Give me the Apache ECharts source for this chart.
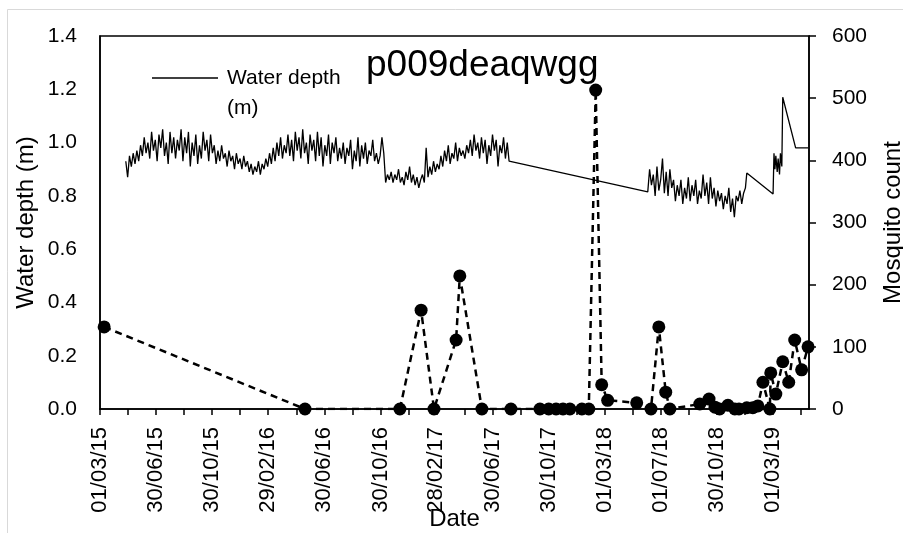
<!DOCTYPE html>
<html><head><meta charset="utf-8">
<script src="https://cdn.jsdelivr.net/npm/echarts@6/dist/echarts.min.js"></script>
<style>html,body{margin:0;padding:0;background:#fff}#c{width:903px;height:533px}</style>
</head><body><div id="c"></div>
<script>
// X-axis tick labels (dd/mm/yy)
const tickLabels = ['01/03/15','30/06/15','30/10/15','29/02/16','30/06/16','30/10/16','28/02/17','30/06/17','30/10/17','01/03/18','01/07/18','30/10/18','01/03/19'];

// Mosquito counts (right axis)
const mosqDates = ['2015-03-10','2016-05-19','2016-12-11','2017-01-26','2017-02-23','2017-04-12','2017-04-20','2017-06-07','2017-08-09','2017-10-11','2017-10-30','2017-11-15','2017-11-30','2017-12-15','2018-01-10','2018-01-25','2018-02-09','2018-02-22','2018-03-07','2018-05-09','2018-06-09','2018-06-26','2018-07-11','2018-07-20','2018-09-23','2018-10-13','2018-10-26','2018-11-05','2018-11-23','2018-12-08','2018-12-17','2019-01-03','2019-01-16','2019-01-27','2019-02-07','2019-02-22','2019-02-24','2019-03-07','2019-03-22','2019-04-04','2019-04-17','2019-05-02','2019-05-16'];
const mosqCounts = [132,0,0,159,0,111,214,0,0,0,0,0,0,0,0,0,513,39,14,10,0,132,27,0,8,16,3,0,6,0,0,2,2,5,43,0,58,24,76,43,111,63,100];

// Water depth (left axis), segment A: readings every 4 days from start
const waterAStart = '2015-04-26';
const waterStepDays = 4;
const waterA = [0.93,0.87,0.95,0.91,0.96,0.92,0.97,0.93,0.99,
0.95,1.02,0.96,1.00,0.94,1.04,0.97,1.01,0.93,1.03,0.98,1.05,0.95,1.00,0.92,1.04,0.96,1.02,0.94,
1.01,0.97,1.05,0.93,1.02,0.96,1.04,0.91,1.00,0.95,1.03,0.92,0.99,
0.94,1.04,0.97,1.01,0.93,1.03,0.96,0.99,
0.92,0.97,0.93,0.99,0.94,0.96,0.91,0.97,0.93,0.95,0.90,0.96,0.92,0.94,0.90,0.95,0.91,
0.93,0.89,0.92,0.88,0.91,0.89,0.93,0.88,0.92,0.90,0.94,0.91,
0.96,0.92,0.98,0.93,1.00,0.95,1.02,0.94,0.99,
0.96,1.03,0.95,1.01,0.93,1.04,0.97,1.02,0.94,1.05,0.96,1.00,0.92,1.03,0.97,1.01,0.93,1.04,0.95,1.02,0.91,0.99,0.95,1.03,0.92,1.00,0.96,1.02,0.93,0.98,
0.94,1.00,0.92,0.98,0.95,1.01,0.90,0.97,0.93,1.02,0.91,0.99,0.94,1.00,0.92,0.97,0.95,1.01,0.93,0.96,0.92,0.95,1.02,
0.96,0.85,
0.88,0.86,0.89,0.85,0.88,0.86,0.90,0.85,0.87,0.84,0.89,0.86,0.91,0.85,0.88,0.84,0.87,0.83,0.86,
0.88,0.85,0.98,0.87,0.91,0.88,0.93,0.89,0.92,0.90,
0.95,0.91,0.97,0.93,0.99,0.92,0.96,0.94,1.00,0.93,0.98,0.95,0.97,0.94,0.99,
0.96,1.01,0.95,1.03,0.97,1.00,0.94,1.02,0.96,1.01,0.92,0.99,0.95,1.03,0.97,1.01,0.91,0.99,0.96,1.02,0.94,1.00,0.93];
// Segment B: readings every 4 days from start
const waterBStart = '2018-06-02';
const waterB = [0.815,0.90,0.84,0.88,0.80,0.91,0.82,0.86,0.94,0.81,
0.89,0.80,0.90,0.83,0.86,0.78,0.84,0.80,0.86,0.77,
0.83,0.79,0.87,0.78,0.84,0.80,0.86,0.77,0.82,0.79,
0.88,0.80,0.85,0.77,0.87,0.79,0.83,0.76,0.82,0.78,
0.81,0.75,0.80,0.77,0.83,0.74,0.79,0.72,0.80,0.78,
0.82,0.77,0.81,0.83];
// Segment C: explicit readings
const waterCDates = ['2019-01-03','2019-03-01','2019-03-03','2019-03-05','2019-03-07','2019-03-10','2019-03-12','2019-03-15','2019-03-17','2019-03-20','2019-03-22','2019-04-19','2019-05-16'];
const waterC = [0.886,0.807,0.96,0.90,0.95,0.89,0.94,0.88,0.96,0.91,1.17,0.98,0.98];

const F = '"Liberation Sans", Arial, sans-serif';
const base = Date.UTC(2015,2,1);
const DAY = 86400000;
function dayOf(s){const p=s.split('-').map(Number);return Math.round((Date.UTC(p[0],p[1]-1,p[2])-base)/DAY);}
function dayOfLabel(s){const p=s.split('/').map(Number);return Math.round((Date.UTC(2000+p[2],p[1]-1,p[0])-base)/DAY);}

const labelPos = tickLabels.map(dayOfLabel);
const labelMap = {};
labelPos.forEach((p,i)=>{labelMap[p]=tickLabels[i];});
const tickPos = [];
for(let i=0;i<labelPos.length;i++){
  tickPos.push(labelPos[i]);
  const next = i<labelPos.length-1 ? labelPos[i+1] : labelPos[i]+(labelPos[i]-labelPos[i-1]);
  tickPos.push((labelPos[i]+next)/2);
}

const waterData = [];
const a0 = dayOf(waterAStart);
waterA.forEach((v,i)=>waterData.push([a0+i*waterStepDays, v]));
const b0 = dayOf(waterBStart);
waterB.forEach((v,i)=>waterData.push([b0+i*waterStepDays, v]));
waterCDates.forEach((d,i)=>waterData.push([dayOf(d), waterC[i]]));
const mosqData = mosqDates.map((d,i)=>[dayOf(d), mosqCounts[i]]);

const chart = echarts.init(document.getElementById('c'), null, {renderer:'canvas'});
chart.setOption({
  animation:false,
  backgroundColor:'#fff',
  title:{text:'p009deaqwgg', left:366, top:47, padding:0,
    textStyle:{fontFamily:F, fontSize:37, fontWeight:'normal', color:'#000'}},
  legend:{data:[{name:'Water depth (m)', icon:'rect'}], left:152, top:67, padding:0, itemWidth:66, itemHeight:1.3,
    itemStyle:{color:'#000', borderWidth:0},
    formatter:()=> 'Water depth',
    textStyle:{fontFamily:F, fontSize:21, color:'#000', padding:[0,0,0,4], lineHeight:22}},
  graphic:[
    {type:'rect', silent:true, z:-10, shape:{x:7.5,y:9.5,width:1000,height:1000}, style:{fill:'none', stroke:'#d9d9d9', lineWidth:1}},
    {type:'text', silent:true, x:227, y:98, style:{text:'(m)', font:'21px "Liberation Sans", Arial, sans-serif', fill:'#000'}}
  ],
  grid:{left:100, right:94, top:36, bottom:124, show:true, borderColor:'#000', borderWidth:1.5, backgroundColor:'transparent', outerBoundsMode:'none', containLabel:false},
  xAxis:{type:'value', min:0, max:1539,
    name:'Date', nameLocation:'middle', nameGap:98, nameMoveOverlap:false,
    nameTextStyle:{fontFamily:F, fontSize:24, color:'#000'},
    axisLine:{show:true, onZero:false, lineStyle:{color:'#000', width:1.5}},
    axisTick:{show:true, customValues:tickPos, length:6, inside:false, lineStyle:{color:'#000', width:1.5}},
    axisLabel:{customValues:labelPos, rotate:90, margin:18, fontFamily:F, fontSize:22, color:'#000',
      formatter:(v)=> labelMap[Math.round(v)] || ''},
    splitLine:{show:false}},
  yAxis:[
    {type:'value', position:'left', min:0, max:1.4, interval:0.2,
      name:'Water depth (m)', nameLocation:'middle', nameRotate:90, nameGap:62, nameMoveOverlap:false,
      nameTextStyle:{fontFamily:F, fontSize:24, color:'#000'},
      axisLine:{show:true, lineStyle:{color:'#000', width:1.5}},
      axisTick:{show:false},
      axisLabel:{margin:23, fontFamily:F, fontSize:21, color:'#000', formatter:(v)=>v.toFixed(1)},
      splitLine:{show:false}},
    {type:'value', position:'right', min:0, max:600, interval:100,
      name:'Mosquito count', nameLocation:'middle', nameRotate:90, nameGap:72, nameMoveOverlap:false,
      nameTextStyle:{fontFamily:F, fontSize:24, color:'#000'},
      axisLine:{show:true, lineStyle:{color:'#000', width:1.5}},
      axisTick:{show:true, length:7, inside:false, lineStyle:{color:'#000', width:1.5}},
      axisLabel:{margin:23, fontFamily:F, fontSize:21, color:'#000'},
      splitLine:{show:false}}
  ],
  series:[
    {name:'Water depth (m)', type:'line', yAxisIndex:0, data:waterData, symbol:'none', showSymbol:false,
      lineStyle:{color:'#000', width:1.3}, itemStyle:{color:'#000'}, z:2, silent:true},
    {name:'Mosquito count', type:'line', yAxisIndex:1, data:mosqData, symbol:'circle', symbolSize:13,
      itemStyle:{color:'#000'}, lineStyle:{color:'#000', width:2.5, type:[7,5]}, z:3, silent:true}
  ]
});
</script></body></html>
